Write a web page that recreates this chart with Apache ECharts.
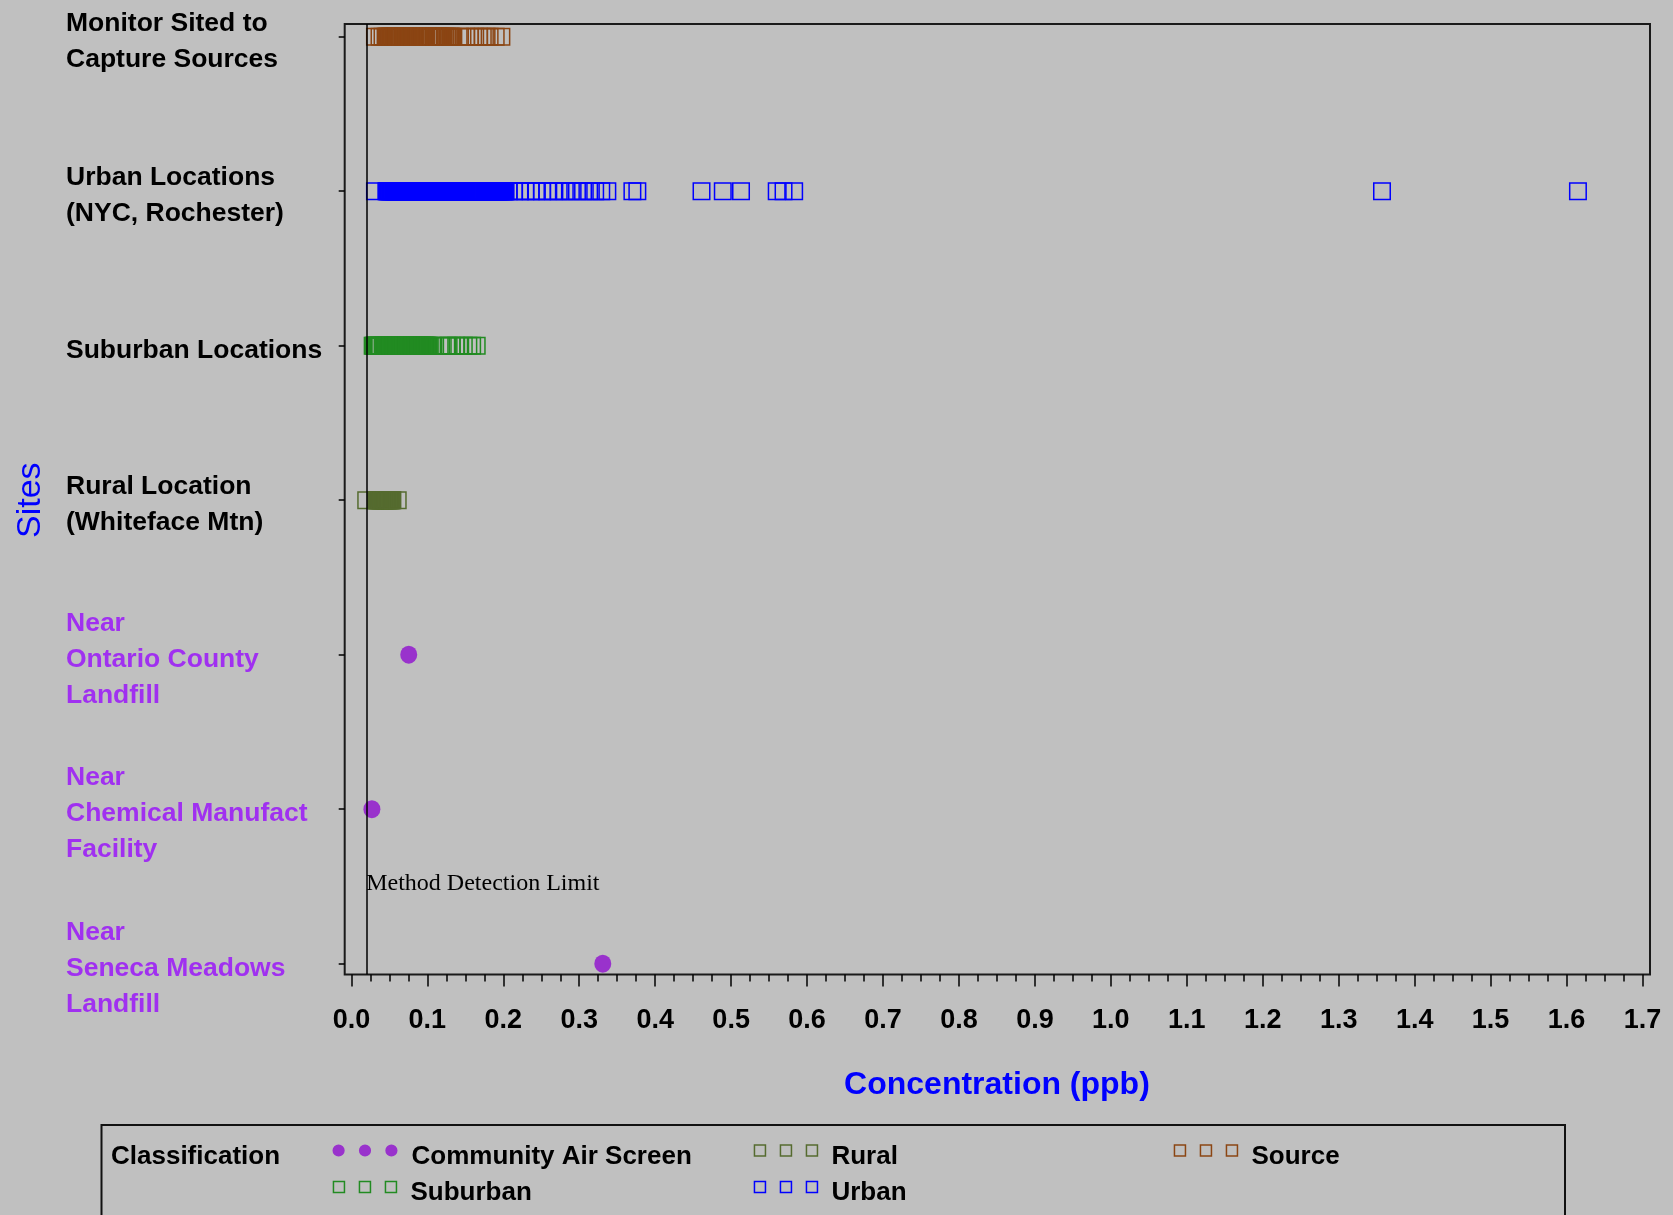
<!DOCTYPE html>
<html>
<head>
<meta charset="utf-8">
<script src="https://cdn.jsdelivr.net/npm/echarts@6/dist/echarts.min.js"></script>
<style>
html,body{margin:0;padding:0;background:#c0c0c0;}
#chart{width:1673px;height:1215px;}
</style>
</head>
<body>
<div id="chart"></div>
<script>
// ---------------- data ----------------
const siteLabels = [
  'Monitor Sited to\nCapture Sources',
  'Urban Locations\n(NYC, Rochester)',
  'Suburban Locations',
  'Rural Location\n(Whiteface Mtn)',
  'Near\nOntario County\nLandfill',
  'Near\nChemical Manufact\nFacility',
  'Near\nSeneca Meadows\nLandfill'
];
const xTickLabels = ['0.0','0.1','0.2','0.3','0.4','0.5','0.6','0.7','0.8','0.9','1.0','1.1','1.2','1.3','1.4','1.5','1.6','1.7'];
const methodDetectionLimit = 0.0195;

const sourceValues = [
  0.031,0.037,0.041,
  0.045,0.046,0.047,0.048,0.049,0.050,0.051,0.052,0.053,0.054,0.055,0.056,0.057,0.058,0.059,0.060,0.061,0.062,0.063,0.064,0.065,
  0.068,0.069,0.070,0.071,0.072,0.073,0.074,0.075,0.076,0.077,0.078,0.079,0.080,0.081,0.082,0.083,
  0.086,0.087,0.088,0.089,
  0.092,0.093,0.094,0.095,0.096,0.097,0.098,
  0.101,0.102,0.105,0.106,
  0.109,0.110,0.111,0.112,0.113,0.114,0.115,0.116,0.117,0.118,0.119,0.120,
  0.123,0.124,0.126,0.128,0.130,0.131,0.132,0.133,
  0.143,0.151,0.156,0.163,0.168,0.173,0.178,0.182,0.190,0.1975
];
const urbanValues = [
  0.031,
  0.046,0.047,0.048,0.049,0.050,0.051,0.052,0.053,0.054,0.055,0.056,0.057,0.058,0.059,0.060,0.061,0.062,0.063,0.064,0.065,
  0.066,0.067,0.068,0.069,0.070,0.071,0.072,0.073,0.074,0.075,0.076,0.077,0.078,0.079,0.080,0.081,0.082,0.083,0.084,0.085,
  0.086,0.087,0.088,0.089,0.090,0.091,0.092,0.093,0.094,0.095,0.096,0.097,0.098,0.099,0.100,0.101,0.102,0.103,0.104,0.105,
  0.106,0.107,0.108,0.109,0.110,0.111,0.112,0.113,0.114,0.115,0.116,0.117,0.118,0.119,0.120,0.121,0.122,0.123,0.124,0.125,
  0.126,0.127,0.128,0.129,0.130,0.131,0.132,0.133,0.134,0.135,0.136,0.137,0.138,0.139,0.140,0.141,0.142,0.143,0.144,0.145,
  0.146,0.147,0.148,0.149,
  0.152,0.153,0.154,0.155,0.156,0.157,0.158,0.159,0.160,0.161,0.162,0.163,0.164,0.165,0.166,0.167,0.168,0.169,0.170,0.171,
  0.172,0.173,
  0.176,0.177,0.178,0.179,0.180,0.181,0.182,0.183,0.184,0.185,0.186,0.187,0.188,0.189,0.190,0.191,0.192,0.193,0.194,0.195,
  0.196,0.197,0.198,0.199,0.200,0.201,0.202,0.203,
  0.207,0.214,0.222,0.229,0.236,0.243,0.251,0.258,0.266,0.273,0.281,0.289,0.297,0.305,0.313,0.321,0.329,0.337,
  0.370,0.3765,
  0.461,0.489,0.513,
  0.560,0.569,0.583,
  1.357,1.615
];
const suburbanValues = [
  0.028,0.029,0.030,0.031,0.032,0.033,0.034,0.035,0.036,0.037,0.038,
  0.041,0.042,0.043,0.044,0.045,0.046,0.047,0.048,0.049,0.050,0.051,0.052,0.053,0.054,0.055,0.056,0.057,0.058,0.059,0.060,
  0.061,0.062,0.063,0.064,0.065,0.066,0.067,0.068,0.069,0.070,0.071,0.072,0.073,0.074,0.075,0.076,0.077,0.078,0.079,0.080,
  0.081,0.082,0.083,0.084,0.085,0.086,0.087,0.088,0.089,0.090,0.091,0.092,0.093,0.094,0.095,0.096,0.097,0.098,0.099,0.100,
  0.101,0.102,
  0.108,0.118,0.125,0.128,0.132,0.138,0.142,0.148,0.154,0.159,0.165
];
const ruralValues = [
  0.0195,
  0.032,0.033,0.034,0.035,0.036,0.037,0.038,0.039,0.040,0.041,0.042,0.043,0.044,0.045,0.046,0.047,0.048,0.049,0.050,
  0.051,0.052,0.053,0.054,
  0.061
];
const ontarioValues = [0.0755];
const chemicalValues = [0.027];
const senecaValues = [0.331];

// ---------------- layout / style ----------------
const W = 1673, H = 1215;
const FRAME = {left: 344.7, right: 1650, top: 24, bottom: 974.5};
const DATA = {left: 351.4, right: 1642.5, top: 36.7, bottom: 963.7};
const X_MAX = 1.7;
const pxPerUnit = (DATA.right - DATA.left) / X_MAX;
const frameMin = -(DATA.left - FRAME.left) / pxPerUnit;
const frameMax = X_MAX + (FRAME.right - DATA.right) / pxPerUnit;

const FONT = 'Liberation Sans, Arial, sans-serif';
const COL = {
  source: '#8B4513', urban: '#0000FF', suburban: '#228B22', rural: '#556B2F',
  community: '#9932CC', labelPurple: '#A030F0', axisBlue: '#0000FF', frame: '#1a1a1a'
};
const SQ3 = 'path://M0,0H11V11H0Z M26,0H37V11H26Z M52,0H63V11H52Z';
const DOT3 = 'path://M0,6a6,6 0 1,0 12,0a6,6 0 1,0 -12,0Z M26,6a6,6 0 1,0 12,0a6,6 0 1,0 -12,0Z M52,6a6,6 0 1,0 12,0a6,6 0 1,0 -12,0Z';

function squareSeries(name, values, catIndex, color) {
  return {
    name: name, type: 'scatter', xAxisIndex: 0, yAxisIndex: 0,
    symbol: 'rect', symbolSize: 16.5, z: 3, silent: true,
    itemStyle: {color: 'rgba(0,0,0,0)', borderColor: color, borderWidth: 1.5, opacity: 1},
    emphasis: {disabled: true},
    data: values.map(v => [v, catIndex])
  };
}

function legendFor(name, icon, itemStyle, left, iconCenterY, iconW, iconH) {
  return {
    data: [{name: name, icon: icon, itemStyle: itemStyle}],
    left: left, top: iconCenterY - 7.5, padding: 0,
    itemWidth: iconW, itemHeight: iconH, selectedMode: false,
    formatter: '{t|{name}}',
    textStyle: {
      fontSize: 26, fontWeight: 'bold', color: '#000', fontFamily: FONT,
      rich: {t: {fontSize: 26, fontWeight: 'bold', color: '#000', fontFamily: FONT, padding: [12, 0, 0, 9]}}
    }
  };
}

const sqStyle = c => ({color: 'rgba(0,0,0,0)', borderColor: c, borderWidth: 1.5, opacity: 1});

const option = {
  backgroundColor: '#c0c0c0',
  animation: false,
  title: {
    text: 'Classification', left: 111, top: 1144, padding: 0,
    textStyle: {fontSize: 26, fontWeight: 'bold', color: '#000', fontFamily: FONT}
  },
  legend: [
    legendFor('Community Air Screen', DOT3, {color: COL.community, borderWidth: 0, opacity: 1}, 332.5, 1151, 65, 13),
    legendFor('Rural', SQ3, sqStyle(COL.rural), 753.7, 1151, 63, 11),
    legendFor('Source', SQ3, sqStyle(COL.source), 1173.7, 1151, 63, 11),
    legendFor('Suburban', SQ3, sqStyle(COL.suburban), 332.7, 1187.5, 63, 11),
    legendFor('Urban', SQ3, sqStyle(COL.urban), 753.7, 1187.5, 63, 11)
  ],
  grid: [
    // data grid
    {left: DATA.left, right: W - DATA.right, top: DATA.top, bottom: H - DATA.bottom,
     containLabel: false, outerBoundsMode: 'none'},
    // plot frame
    {left: FRAME.left, right: W - FRAME.right, top: FRAME.top, bottom: H - FRAME.bottom,
     show: true, borderColor: COL.frame, borderWidth: 2, backgroundColor: 'rgba(0,0,0,0)',
     containLabel: false, outerBoundsMode: 'none'},
    // site axis (ticks + labels on the frame edge)
    {left: FRAME.left, right: W - DATA.right, top: DATA.top, bottom: H - DATA.bottom,
     containLabel: false, outerBoundsMode: 'none'}
  ],
  xAxis: [
    {
      gridIndex: 0, type: 'value', min: 0, max: X_MAX, interval: 0.1,
      offset: FRAME.bottom - DATA.bottom,
      axisLine: {show: false},
      axisTick: {show: true, length: 12, lineStyle: {color: '#000', width: 1.5}},
      minorTick: {show: true, splitNumber: 4, length: 7, lineStyle: {color: '#000', width: 1.5}},
      splitLine: {show: false}, minorSplitLine: {show: false},
      axisLabel: {
        margin: 33, fontSize: 27, fontWeight: 'bold', color: '#000', fontFamily: FONT,
        formatter: v => xTickLabels[Math.round(v * 10)]
      },
      name: 'Concentration (ppb)', nameLocation: 'middle', nameGap: 95,
      nameTextStyle: {color: COL.axisBlue, fontSize: 32, fontWeight: 'bold', fontFamily: FONT}
    },
    {gridIndex: 1, type: 'value', min: frameMin, max: frameMax, show: false},
    {gridIndex: 2, type: 'value', min: 0, max: 1, show: false}
  ],
  yAxis: [
    {
      gridIndex: 0, type: 'category', data: siteLabels, inverse: true, boundaryGap: false, show: false
    },
    {gridIndex: 1, type: 'value', min: 0, max: 1, show: false},
    {
      gridIndex: 2, type: 'category', data: siteLabels, inverse: true, boundaryGap: false,
      axisLine: {show: false},
      axisTick: {show: true, inside: false, length: 6, lineStyle: {color: '#000', width: 1.5}},
      splitLine: {show: false},
      axisLabel: {
        interval: 0, align: 'left', margin: FRAME.left - 66,
        color: (value, index) => index >= 4 ? COL.labelPurple : '#000',
        formatter: value => value.split('\n').map(l => '{a|' + l + '}').join('\n'),
        rich: {
          a: {padding: [9, 0, 0, 0], fontSize: 26.5, fontWeight: 'bold', lineHeight: 36, fontFamily: FONT}
        }
      },
      name: 'Sites', nameLocation: 'middle', nameRotate: 90, nameGap: 297,
      nameTextStyle: {color: COL.axisBlue, fontSize: 34, fontFamily: FONT}
    }
  ],
  graphic: [
    {
      type: 'text', x: DATA.left + methodDetectionLimit * pxPerUnit, y: 883.5, z: 10,
      style: {text: 'Method Detection Limit', font: '24px "Liberation Serif", "Times New Roman", serif',
              fill: '#000', align: 'left', verticalAlign: 'middle'}
    },
    {
      type: 'rect', z: 10,
      shape: {x: 101.5, y: 1125, width: 1463.5, height: 130},
      style: {fill: 'none', stroke: '#111', lineWidth: 2}
    }
  ],
  series: [
    {
      name: 'MDL', type: 'line', xAxisIndex: 1, yAxisIndex: 1, z: 2, silent: true,
      data: [[methodDetectionLimit, 0.5]], showSymbol: false, symbol: 'none',
      lineStyle: {width: 0},
      markLine: {
        silent: true, symbol: ['none', 'none'], label: {show: false},
        lineStyle: {color: '#000', width: 1.5, type: 'solid'},
        emphasis: {disabled: true},
        data: [{xAxis: methodDetectionLimit}]
      }
    },
    squareSeries('Source', sourceValues, 0, COL.source),
    squareSeries('Urban', urbanValues, 1, COL.urban),
    squareSeries('Suburban', suburbanValues, 2, COL.suburban),
    squareSeries('Rural', ruralValues, 3, COL.rural),
    {
      name: 'Community Air Screen', type: 'scatter', xAxisIndex: 0, yAxisIndex: 0,
      symbol: 'circle', symbolSize: [17, 18], z: 3, silent: true,
      itemStyle: {color: COL.community, opacity: 1},
      emphasis: {disabled: true},
      data: [].concat(
        ontarioValues.map(v => [v, 4]),
        chemicalValues.map(v => [v, 5]),
        senecaValues.map(v => [v, 6])
      )
    }
  ]
};

const chart = echarts.init(document.getElementById('chart'), null, {renderer: 'canvas', width: W, height: H});
chart.setOption(option);
</script>
</body>
</html>
